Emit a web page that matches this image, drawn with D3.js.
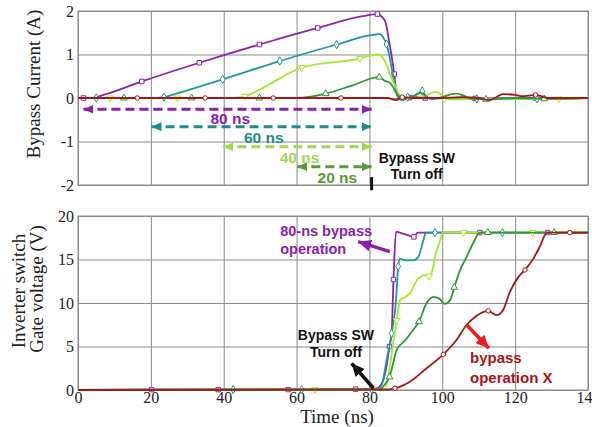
<!DOCTYPE html>
<html lang="en">
<head>
<meta charset="UTF-8">
<title>Bypass current / gate voltage</title>
<script src="https://cdn.jsdelivr.net/npm/d3@7.6.1/dist/d3.min.js"></script>
<style>
  body { margin: 0; background: #fff; }
  svg { display: block; }
  .note { font-family: "Liberation Sans", Arial, sans-serif; font-weight: bold; font-size: 14px; }
</style>
</head>
<body>
<div id="box"></div>
<script>
  const width = 592
  const height = 427

  // time axis ticks (ns)
  const timeTicks = [0, 20, 40, 60, 80, 100, 120, 140]
  const currentTicks = [-2, -1, 0, 1, 2]
  const voltageTicks = [0, 5, 10, 15, 20]

  // top plot: bypass current (A), [t, value, marker?]
  const curPurple = [[0,0],[1.5,0,1],[4,0],[7,0.07],[17.5,0.38,1],[33.3,0.81,1],[49.8,1.23,1],[65.8,1.61,1],[78,1.88],[82.2,1.93,1],[83.5,1.86],[84.5,1.72],[85.4,1.3],[86.3,0.85],[86.8,0.55,1],[87.3,0.2],[88,0],[89,-0.04],[91,0.01,1],[93,0.02],[95.3,0,1],[100,0],[109,-0.01,1],[125.7,0,1],[140,0]]
  const curTeal = [[0,0],[5,0,1],[20,0],[23.6,0.02,1],[27,0.1],[39.7,0.43,1],[55.4,0.85,1],[71,1.23,1],[80,1.44],[82.9,1.47],[84,1.36],[84.7,1.24,1],[85.3,1.04],[86.3,0.6],[87.3,0.2],[88,0],[89,-0.05],[90.5,0.02,1],[92.5,0.06],[94.5,0.16,1],[95.5,0.04],[97,-0.03],[100,0],[109.5,-0.02,1],[120,-0.02],[126,-0.02,1],[130,0],[140,0]]
  const curLime = [[0,0],[8.8,0,1],[27.3,0,1],[42,0],[45.8,0.04,1],[50,0.2],[61.4,0.7,1],[77.4,0.91,1],[80,0.97],[82.7,1.0],[84,0.88],[84.7,0.77],[85.6,0.55],[86.5,0.38],[87.5,0.2],[88.5,0.05],[90,0.02],[92,0],[94,0.02],[96,0.08],[98,0.14],[99.5,0.1],[100.5,-0.02,1],[103,-0.03],[110,-0.02],[120,-0.02],[132,-0.02,1],[140,0]]
  const curGreen = [[0,0],[12.6,0,1],[31.2,0,1],[49.8,0,1],[60,0],[68,0.1,1],[75,0.28],[82.7,0.48,1],[84.1,0.4],[85.6,0.35],[86.5,0.25],[87.3,0.12],[88.5,0.02],[90,0],[92,0.04],[94,0.12],[95,0.08],[96,0],[98,0],[100,0.02],[102,0.08],[104,0.1],[106,0.05],[108,-0.02],[112,-0.03,1],[116,-0.02],[120,0],[128,-0.02,1],[140,0]]
  const curRed = [[0,0],[16.3,0,1],[34.9,0,1],[53.6,0,1],[72.2,0,1],[85,0],[87.3,-0.05],[89,0.02,1],[92,0],[100,0],[105,0.02],[110,0],[113,-0.05],[116.7,0.09],[120,0.07],[122,0.04],[125.6,0.07,1],[127,0.05],[129,0],[140,0]]

  // bottom plot: inverter switch gate voltage (V), [t, value, marker?]
  const gatePurple = [[0,0],[20.2,0.05,1],[38.5,0.05,1],[57.7,0.05,1],[76.2,0.1,1],[80,0.1],[82,0.2],[83.8,1.15],[84.8,3.0],[85.5,5.0,1],[86.1,6.5],[86.6,12.7,1],[87.3,18.2],[88.9,18.0],[90.5,17.8],[92.2,17.6,1],[93.2,18.1],[95,18.1],[110.3,18.1,1],[128.9,18.1,1],[140,18.1]]
  const gateTeal = [[0,0],[42.6,0.05,1],[61.4,0.05,1],[80.6,0.1,1],[82.5,0.2],[83.4,0.6],[84.7,3.4],[86.1,6.5,1],[87.3,10.3],[87.9,14.2,1],[88.4,15.1],[89.8,14.9],[92,14.9],[93.4,15.3],[94.8,17.2],[95.5,18.1],[98,18.1,1],[116.5,18.1,1],[140,18.1]]
  const gateLime = [[0,0],[65,0.05,1],[84.3,0.1],[85.6,2.7],[86.5,5.4],[87.5,8.0,1],[88.4,10.3],[89.8,10.7],[91.1,11.1],[93,12.6],[95.2,13.2],[96.4,13.1,1],[97.3,13.8],[98,15.3],[99.4,17.2],[100.1,18.1],[105.8,18.1,1],[124.8,18.1,1],[140,18.1]]
  const gateGreen = [[0,0],[82.9,0.1],[84.5,0.8],[85.5,1.5,1],[87.5,4.6],[89.8,5.7],[92,6.9],[93.6,7.85,1],[95.7,10.0],[97.5,10.7],[99.2,10.5],[100.7,9.9],[102.1,10.3],[103.3,11.8,1],[104.9,13.8],[106.7,15.3],[108.5,16.9],[110.3,18.1],[112.5,18.1,1],[130.7,18.1,1],[140,18.1]]
  const gateRed = [[0,0],[83.8,0.05],[87,0.2,1],[91.1,0.95],[95.7,2.5],[100.3,4.1,1],[103.9,5.75],[106.7,7.5],[109,8.4],[112.6,9.1,1],[114.9,8.6],[116.7,9.2],[118.6,11.3],[120.9,13.0],[122.7,13.8,1],[125,15.1],[126.8,16.5],[128.7,18.1],[135,18.1,1],[140,18.1]]

  // bypass durations shown with dashed arrows
  const bypassLabels = ['80 ns', '60 ns', '40 ns', '20 ns']
  const bypassStart = [1.5, 20.2, 39.9, 60.2]
  const bypassEnd = 80.6
  const bypassLevel = [-0.26, -0.66, -1.12, -1.58]

  const colors = { purple: '#9020b0', teal: '#1d9a9a', lime: '#a8e830', green: '#2f9a33', red: '#a61616' }
  const labelColors = ['#8a1fb0', '#1e8c8c', '#a0d94f', '#5a9a35']
  const symbols = {
    purple: d3.symbolSquare, teal: d3.symbolDiamond, lime: d3.symbolTriangle,
    green: d3.symbolTriangle, red: d3.symbolCircle
  }
  const serif = '"Liberation Serif", "Times New Roman", serif'

  const svg = d3.select('#box').append('svg')
    .attr('width', width)
    .attr('height', height)

  const x = d3.scaleLinear().domain([0, 140]).range([78, 588])
  const yTop = d3.scaleLinear().domain([-2, 2]).range([185, 11])
  const yBot = d3.scaleLinear().domain([0, 20]).range([390, 216])

  // arrow heads
  const defs = svg.append('defs')
  function head(id, color, w, h) {
    defs.append('marker')
      .attr('id', id)
      .attr('markerUnits', 'userSpaceOnUse')
      .attr('viewBox', `0 0 ${w} ${h}`)
      .attr('markerWidth', w).attr('markerHeight', h)
      .attr('refX', w).attr('refY', h / 2)
      .attr('orient', 'auto-start-reverse')
      .append('path')
      .attr('d', `M0,0L${w},${h / 2}L0,${h}Z`)
      .attr('fill', color)
  }
  labelColors.forEach((c, i) => head('dash' + i, c, 10, 9))
  head('hPurple', '#8a1fb0', 13, 12)
  head('hBlack', '#111', 13, 12)
  head('hRed', '#ee1c1c', 13, 12)

  function frame(yScale, ticks, showX) {
    const g = svg.append('g')
    g.append('g')
      .attr('transform', `translate(${x.range()[0]},0)`)
      .call(d3.axisLeft(yScale).tickValues(ticks).tickFormat(d => String(d))
        .tickSize(-(x.range()[1] - x.range()[0])).tickPadding(4))
      .attr('font-family', serif).attr('font-size', 16)
      .call(a => a.select('.domain').remove())
      .call(a => a.selectAll('line').attr('stroke', '#8a8a8a'))
      .call(a => a.selectAll('text').attr('fill', '#222'))
    const xa = g.append('g')
      .attr('transform', `translate(0,${yScale.range()[0]})`)
      .call(d3.axisBottom(x).tickValues(timeTicks).tickFormat(d => String(d))
        .tickSize(-(yScale.range()[0] - yScale.range()[1])).tickPadding(2))
      .attr('font-family', serif).attr('font-size', 16)
      .call(a => a.select('.domain').remove())
      .call(a => a.selectAll('line').attr('stroke', '#8a8a8a'))
      .call(a => a.selectAll('text').attr('fill', '#222'))
    if (!showX) xa.selectAll('text').remove()
    g.append('rect')
      .attr('x', x.range()[0]).attr('y', yScale.range()[1])
      .attr('width', x.range()[1] - x.range()[0])
      .attr('height', yScale.range()[0] - yScale.range()[1])
      .attr('fill', 'none').attr('stroke', '#8a8a8a')
  }
  frame(yTop, currentTicks, false)
  frame(yBot, voltageTicks, true)

  function series(data, yScale, key) {
    const line = d3.line().x(d => x(d[0])).y(d => yScale(d[1])).curve(d3.curveMonotoneX)
    svg.append('path')
      .datum(data)
      .attr('d', line)
      .attr('fill', 'none')
      .attr('stroke', colors[key])
      .attr('stroke-width', 1.8)
    svg.append('g').selectAll('path')
      .data(data.filter(d => d[2]))
      .join('path')
      .attr('d', d3.symbol().type(symbols[key]).size(key === 'red' ? 16 : 20))
      .attr('transform', d => `translate(${x(d[0])},${yScale(d[1])})` + (key === 'lime' ? ' rotate(180)' : ''))
      .attr('fill', '#fff')
      .attr('stroke', colors[key])
      .attr('stroke-width', 1)
  }
  series(curPurple, yTop, 'purple')
  series(curTeal, yTop, 'teal')
  series(curLime, yTop, 'lime')
  series(curGreen, yTop, 'green')
  series(curRed, yTop, 'red')

  series(gatePurple, yBot, 'purple')
  series(gateTeal, yBot, 'teal')
  series(gateLime, yBot, 'lime')
  series(gateGreen, yBot, 'green')
  series(gateRed, yBot, 'red')

  // dashed duration arrows
  bypassLabels.forEach((label, i) => {
    svg.append('line')
      .attr('x1', x(bypassStart[i])).attr('x2', x(bypassEnd))
      .attr('y1', yTop(bypassLevel[i])).attr('y2', yTop(bypassLevel[i]))
      .attr('stroke', labelColors[i])
      .attr('stroke-width', 3)
      .attr('stroke-dasharray', '9,5')
      .attr('marker-start', `url(#dash${i})`)
      .attr('marker-end', `url(#dash${i})`)
  })
  const labelPos = [[41.8, -0.6], [51, -1.03], [60.8, -1.5], [71.2, -1.95]]
  svg.append('g').selectAll('text')
    .data(bypassLabels)
    .join('text')
    .attr('class', 'note')
    .attr('font-size', 15.5)
    .style('font-size', '15.5px')
    .attr('x', (d, i) => x(labelPos[i][0]))
    .attr('y', (d, i) => yTop(labelPos[i][1]))
    .attr('text-anchor', 'middle')
    .attr('fill', (d, i) => labelColors[i])
    .text(d => d)

  // turn-off marker under top plot
  svg.append('line')
    .attr('x1', x(bypassEnd)).attr('x2', x(bypassEnd))
    .attr('y1', yTop(-1.82)).attr('y2', yTop(-2.12))
    .attr('stroke', '#111').attr('stroke-width', 3)

  function note(lines, t, v, yScale, color, anchor, gap, size) {
    lines.forEach((s, i) => {
      svg.append('text')
        .attr('class', 'note')
        .style('font-size', size + 'px')
        .attr('fill', color)
        .attr('text-anchor', anchor)
        .attr('x', x(t)).attr('y', yScale(v) + i * gap)
        .text(s)
    })
  }
  note(['Bypass SW', 'Turn off'], 93, -1.5, yTop, '#111', 'middle', 16, 14)
  note(['80-ns bypass', 'operation'], 55.5, 17.75, yBot, '#8a1fb0', 'start', 18, 14.5)
  note(['Bypass SW', 'Turn off'], 70.8, 5.75, yBot, '#111', 'middle', 17, 14)
  note(['bypass', 'operation X'], 107.6, 3.1, yBot, '#a61616', 'start', 20, 15)

  function arrow(t1, v1, t2, v2, color, id) {
    svg.append('line')
      .attr('x1', x(t1)).attr('y1', yBot(v1))
      .attr('x2', x(t2)).attr('y2', yBot(v2))
      .attr('stroke', color).attr('stroke-width', 3.5)
      .attr('marker-end', `url(#${id})`)
  }
  arrow(85.6, 15.9, 76.9, 17.05, '#8a1fb0', 'hPurple')
  arrow(81.1, 0.2, 75.1, 3.07, '#111', 'hBlack')
  arrow(106.7, 7.47, 112.8, 4.8, '#ee1c1c', 'hRed')

  // axis titles
  svg.append('text')
    .attr('transform', `translate(40,84) rotate(-90)`)
    .attr('text-anchor', 'middle')
    .attr('font-family', serif).attr('font-size', 19).attr('fill', '#222')
    .text('Bypass Current (A)')
  svg.append('text')
    .attr('transform', `translate(25,291) rotate(-90)`)
    .attr('text-anchor', 'middle')
    .attr('font-family', serif).attr('font-size', 19).attr('fill', '#222')
    .text('Inverter switch')
  svg.append('text')
    .attr('transform', `translate(43,289) rotate(-90)`)
    .attr('text-anchor', 'middle')
    .attr('font-family', serif).attr('font-size', 19).attr('fill', '#222')
    .text('Gate voltage (V)')
  svg.append('text')
    .attr('x', 337).attr('y', 423)
    .attr('text-anchor', 'middle')
    .attr('font-family', serif).attr('font-size', 19).attr('fill', '#222')
    .text('Time (ns)')
</script>
</body>
</html>
